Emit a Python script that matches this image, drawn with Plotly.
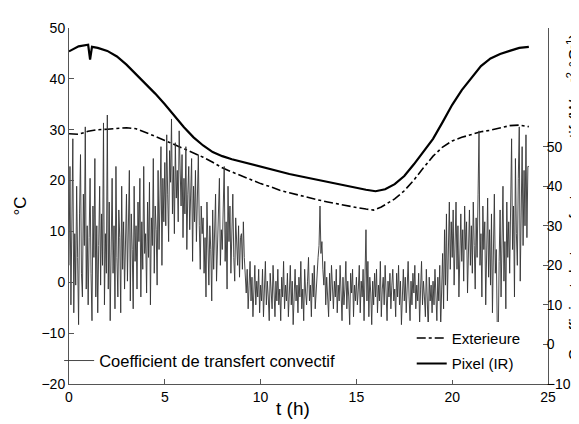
import plotly.graph_objects as go

# ---- data ----
t_pixel = [0, 0.5, 1, 1.1, 1.2, 1.5, 2, 2.5, 3, 3.5, 4, 4.5, 5, 5.5, 6, 6.5, 7, 7.5, 8, 8.5,
           9, 9.5, 10, 10.5, 11, 11.5, 12, 12.5, 13, 13.5, 14, 14.5, 15, 15.5, 16, 16.5,
           17, 17.5, 18, 18.5, 19, 19.5, 20, 20.5, 21, 21.5, 22, 22.5, 23, 23.5, 24]
pixel_ir = [45.4, 46.4, 46.7, 43.8, 46.3, 46.1, 45.5, 44.4, 42.8, 40.9, 39.1, 37.1, 35.0, 32.7,
            30.5, 28.5, 26.9, 25.6, 24.8, 24.2, 23.7, 23.2, 22.7, 22.2, 21.7, 21.3, 20.9, 20.5,
            20.2, 19.8, 19.4, 19.0, 18.6, 18.2, 17.9, 18.3, 19.3, 20.9, 23.2, 25.6, 28.2, 31.5,
            34.9, 37.8, 40.2, 42.5, 44.0, 44.9, 45.5, 46.1, 46.3]

t_ext = [0, 0.5, 1, 1.5, 2, 2.5, 3, 3.5, 4, 4.5, 5, 5.5, 6, 6.5, 7, 7.5, 8, 8.5, 9, 9.5,
         10, 10.5, 11, 11.5, 12, 12.5, 13, 13.5, 14, 14.5, 15, 15.5, 15.9, 16.3, 16.7, 17,
         17.5, 18, 18.5, 19, 19.5, 20, 20.5, 21, 21.5, 22, 22.5, 23, 23.5, 24]
exterieure = [29.2, 29.1, 29.7, 30.0, 30.1, 30.3, 30.4, 30.2, 29.5, 28.7, 27.9, 27.1, 26.3, 25.5,
              24.6, 23.6, 22.5, 21.7, 20.9, 20.2, 19.4, 18.8, 18.1, 17.6, 17.1, 16.6, 16.2, 15.8,
              15.4, 15.0, 14.7, 14.4, 14.2, 14.8, 15.7, 16.4, 18.0, 20.1, 22.5, 24.8, 26.6, 27.8,
              28.5, 29.1, 29.6, 29.9, 30.4, 30.8, 30.9, 30.6]

# convective coefficient, one value every 0.05 h (one row per hour)
coef = [
    20, 45, 10, 35, 52, 8, 28, 15, 40, 22, 5, 33, 48, 18, 12, 38, 25, 55, 14, 30,
    10, 27, 42, 18, 6, 35, 22, 47, 12, 30, 8, 25, 40, 15, 33, 20, 56, 10, 28, 18,
    58, 14, 36, 6, 24, 42, 18, 30, 9, 45, 22, 12, 34, 27, 8, 40, 19, 31, 14, 26,
    38, 16, 29, 44, 11, 33, 24, 9, 40, 21, 30, 14, 36, 26, 42, 12, 31, 19, 45, 23,
    28, 13, 36, 22, 41, 10, 32, 25, 47, 18, 35, 29, 15, 44, 24, 38, 50, 20, 42, 31,
    46, 30, 53, 38, 26, 49, 41, 57, 33, 45, 28, 51, 37, 44, 31, 54, 40, 35, 48, 27,
    42, 33, 50, 24, 38, 45, 29, 36, 47, 21, 40, 31, 44, 26, 37, 48, 30, 19, 35, 28,
    32, 18, 27, 12, 36, 22, 15, 30, 24, 11, 34, 19, 28, 38, 16, 25, 33, 42, 20, 29,
    24, 37, 45, 21, 31, 14, 40, 26, 35, 18, 29, 38, 22, 16, 32, 25, 20, 30, 17, 27,
    28, 19, 31, 22, 16, 13, 19, 9, 15, 21, 11, 17, 7, 14, 20, 10, 16, 12, 19, 8,
    15, 11, 19, 7, 13, 21, 10, 16, 12, 6, 18, 14, 9, 20, 13, 7, 16, 11, 19, 10,
    14, 6, 17, 12, 21, 9, 15, 11, 18, 7, 13, 20, 10, 16, 5, 14, 19, 11, 15, 8,
    17, 12, 21, 9, 14, 6, 19, 13, 10, 16, 22, 11, 15, 7, 18, 12, 20, 9, 14, 17,
    22, 25, 35, 23, 26, 19, 15, 21, 10, 17, 13, 7, 18, 11, 20, 14, 9, 16, 12, 19,
    8, 15, 11, 20, 13, 6, 17, 10, 14, 21, 9, 16, 12, 5, 18, 13, 19, 7, 15, 11,
    17, 10, 14, 20, 8, 16, 12, 19, 6, 15, 29, 11, 21, 7, 17, 13, 5, 16, 10, 18,
    12, 19, 8, 15, 11, 21, 7, 14, 17, 10, 20, 13, 6, 16, 12, 18, 9, 15, 19, 11,
    14, 7, 18, 12, 20, 10, 16, 5, 13, 19, 11, 17, 8, 15, 21, 12, 6, 16, 10, 18,
    13, 20, 9, 15, 11, 18, 5, 14, 21, 10, 16, 12, 7, 19, 13, 3, 17, 11, 15, 8,
    16, 10, 19, 13, 6, 17, 11, 20, 4, 14, 23, 9, 29, 15, 33, 11, 27, 36, 19, 31,
    22, 34, 15, 28, 36, 19, 30, 12, 25, 33, 21, 29, 16, 35, 24, 31, 13, 27, 34, 20,
    30, 18, 36, 25, 14, 32, 22, 38, 54, 20, 28, 12, 35, 24, 31, 10, 26, 37, 17, 29,
    15, 33, 8, 27, 38, 18, 24, 5, 0, 21, 34, 12, 29, 40, 16, 26, 9, 36, 22, 31,
    18, 40, 52, 24, 35, 12, 47, 28, 20, 42, 55, 16, 38, 50, 25, 44, 30, 53, 27, 45,
    45]
t_coef = [i * 0.05 for i in range(len(coef))]

x_ticks = [0, 5, 10, 15, 20, 25]
y_ticks = [-20, -10, 0, 10, 20, 30, 40, 50]
y2_ticks = [-10, 0, 10, 20, 30, 40, 50]

FONT = "Liberation Sans, Arial, Helvetica, sans-serif"
AX = "#555555"

fig = go.Figure()
fig.add_trace(go.Scatter(x=t_coef, y=coef, mode="lines", yaxis="y2",
                         name="Coefficient de transfert convectif",
                         line=dict(color="#333333", width=0.9), legend="legend2"))
fig.add_trace(go.Scatter(x=t_ext, y=exterieure, mode="lines", name="Exterieure",
                         legendgroup="a",
                         line=dict(color="black", width=1.6, dash="dashdot"), legend="legend"))
fig.add_trace(go.Scatter(x=t_pixel, y=pixel_ir, mode="lines", name="Pixel (IR)",
                         legendgroup="b",
                         line=dict(color="black", width=2.2), legend="legend"))

fig.update_layout(
    width=579, height=424,
    margin=dict(l=55, r=39, t=15, b=48),
    plot_bgcolor="white", paper_bgcolor="white",
    font=dict(family=FONT, size=14, color="black"),
    xaxis=dict(range=[0, 25], tickvals=x_ticks, ticks="inside", ticklen=5, tickcolor=AX,
               showline=True, linecolor=AX, linewidth=1, showgrid=False, zeroline=False),
    yaxis=dict(range=[-20, 50], tickvals=y_ticks, ticks="inside", ticklen=5, tickcolor=AX,
               showline=True, linecolor=AX, linewidth=1, showgrid=False, zeroline=False,
               title=dict(text="°C", font=dict(size=17), standoff=10)),
    yaxis2=dict(range=[-10, 80], tickvals=y2_ticks, overlaying="y", side="right",
                ticks="inside", ticklen=5, tickcolor=AX, showline=True, linecolor=AX,
                linewidth=1, showgrid=False, zeroline=False, ticklabelstandoff=-5),
    legend=dict(x=0.7155, y=0.012, xanchor="left", yanchor="bottom", bgcolor="white",
                borderwidth=0, font=dict(size=15), tracegroupgap=3, traceorder="grouped"),
    legend2=dict(x=-0.0206, y=0.016, xanchor="left", yanchor="bottom",
                 bgcolor="rgba(0,0,0,0)", borderwidth=0, font=dict(size=16.5)),
    showlegend=True,
)

fig.add_annotation(text="t (h)", xref="paper", yref="paper", x=0.468, y=-0.07,
                   xanchor="center", yanchor="middle", showarrow=False,
                   font=dict(size=19, family=FONT))

fig.add_annotation(text="Coefficient de transfert convectif (W.m<sup>-2</sup>.°C<sup>-1</sup>)",
                   xref="paper", yref="paper", x=1.0537, y=0.525, xanchor="center",
                   yanchor="middle", textangle=-90, showarrow=False,
                   font=dict(size=16.5, family=FONT))

fig.write_html("out.html")
